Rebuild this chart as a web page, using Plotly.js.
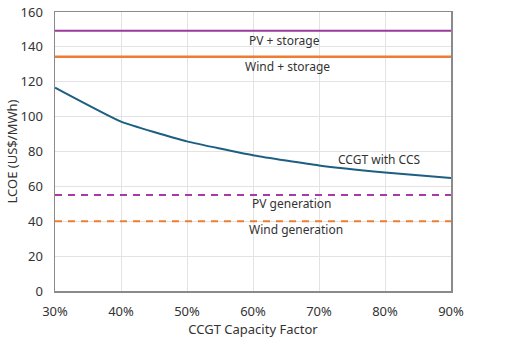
<!DOCTYPE html>
<html><head><meta charset="utf-8">
<script src="https://cdn.plot.ly/plotly-3.0.1.min.js"></script>
<style>html,body{margin:0;padding:0;background:#fff}#c{width:525px;height:349px}</style>
</head><body><div id="c"></div>
<script>
const capacityFactor = [0.3, 0.4, 0.5, 0.6, 0.7, 0.8, 0.9];
const ccgtCCS = [116.6, 97.1, 85.8, 77.8, 72.0, 68.0, 64.8];
const lineX = [0.3, 0.9];
const pvStorage = [149.3, 149.3];
const windStorage = [134.4, 134.4];
const pvGeneration = [55, 55];
const windGeneration = [40, 40];
const labels = ["PV + storage", "Wind + storage", "CCGT with CCS", "PV generation", "Wind generation"];
const labelX = [0.648, 0.653, 0.792, 0.659, 0.665];
const labelY = [143.9, 128.5, 75.3, 49.9, 35.0];

const purple = '#9B3A9B', orange = '#ED7D31', teal = '#1D5F82', magenta = '#A63AA8';
const traces = [
  {x: lineX, y: pvStorage, mode: 'lines', line: {color: purple, width: 2}},
  {x: lineX, y: windStorage, mode: 'lines', line: {color: orange, width: 2.5}},
  {x: capacityFactor, y: ccgtCCS, mode: 'lines', line: {color: teal, width: 2, shape: 'spline', smoothing: 0.4}},
  {x: lineX, y: pvGeneration, mode: 'lines', line: {color: magenta, width: 2, dash: '7px,6px'}},
  {x: lineX, y: windGeneration, mode: 'lines', line: {color: orange, width: 2, dash: '7px,6px'}}
];
const font = {family: '"Noto Sans", sans-serif', size: 12, color: '#333'};
const layout = {
  width: 525, height: 349,
  margin: {l: 55, r: 74, t: 12, b: 58},
  showlegend: false,
  paper_bgcolor: '#fff', plot_bgcolor: '#fff',
  font: font,
  xaxis: {
    range: [0.3, 0.9], tickvals: capacityFactor, tickformat: '.0%',
    showgrid: true, gridcolor: '#e3e3e3', zeroline: false,
    showline: true, linecolor: '#8a8a8a', linewidth: 1.5, mirror: true,
    ticks: '', ticklen: 0, ticklabelstandoff: 8, tickfont: {size: 13, color: '#333'},
    title: {text: 'CCGT Capacity Factor', font: {size: 13, color: '#333'}, standoff: 2}
  },
  yaxis: {
    range: [0, 160], dtick: 20,
    showgrid: true, gridcolor: '#e3e3e3', zeroline: false,
    showline: true, linecolor: '#8a8a8a', linewidth: 1.5, mirror: true,
    ticks: '', ticklabelstandoff: 8, tickfont: {size: 13, color: '#333'},
    title: {text: 'LCOE (US$/MWh)', font: {size: 13, color: '#333'}, standoff: 0}
  },
  annotations: labels.map((t, i) => ({
    x: labelX[i], y: labelY[i], xref: 'x', yref: 'y', text: t, showarrow: false,
    font: {size: 12, color: '#333'}
  }))
};
Plotly.newPlot('c', traces, layout, {staticPlot: true, displayModeBar: false});
</script></body></html>
